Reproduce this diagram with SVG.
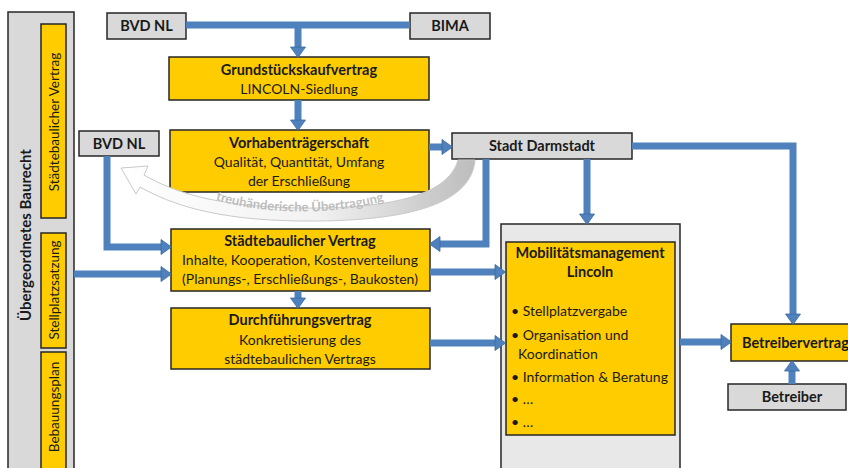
<svg xmlns="http://www.w3.org/2000/svg" width="848" height="468" viewBox="0 0 848 468">
<style>
text{font-family:Lato,"Open Sans","Liberation Sans",sans-serif;fill:#1a1a1a}
.t{font-weight:bold;font-size:14.5px;text-anchor:middle}
.r{font-size:14px;text-anchor:middle}
.y{fill:#FFCC00;stroke:#262626;stroke-width:1.5}
.g{fill:#D9D9D9;stroke:#262626;stroke-width:1.5}
.gp{fill:#E8E8E8;stroke:#262626;stroke-width:1.5}
.c{fill:none;stroke:#4F81BD;stroke-width:7;stroke-linejoin:miter}
.b{font-size:14px}
</style>
<defs>
<marker id="ah" markerUnits="userSpaceOnUse" markerWidth="12" markerHeight="16" refX="0" refY="8" orient="auto" overflow="visible">
<path d="M0,0.5 L10.5,8 L0,15.5 z" fill="#4F81BD" stroke="#3B6AA0" stroke-width="0.8"/>
</marker>
<linearGradient id="cg" x1="0" y1="0" x2="1" y2="0">
<stop offset="0" stop-color="#ffffff"/>
<stop offset="0.55" stop-color="#f2f2f2"/>
<stop offset="1" stop-color="#bdbdbd"/>
</linearGradient>
<path id="tp" d="M 200 194 C 250 216 340 218 400 196"/>
</defs>

<g id="left-panel">
<rect x="8" y="12" width="66" height="470" class="g"/>
<text transform="translate(31,235) rotate(-90)" class="t" style="font-size:15px">Übergeordnetes Baurecht</text>
</g>
<g id="staedtebaulicher-vertrag-left">
<rect x="41" y="24" width="25" height="194" class="y"/>
<text transform="translate(59,122) rotate(-90)" class="r" style="font-size:13.5px">Städtebaulicher  Vertrag</text>
</g>
<g id="stellplatzsatzung">
<rect x="41" y="233" width="25" height="115" class="y"/>
<text transform="translate(59,290) rotate(-90)" class="r" style="font-size:13.5px">Stellplatzsatzung</text>
</g>
<g id="bebauungsplan">
<rect x="41" y="352" width="25" height="130" class="y"/>
<text transform="translate(59,407) rotate(-90)" class="r" style="font-size:13.5px">Bebauungsplan</text>
</g>

<g id="bvd-nl-top">
<rect x="107" y="13" width="79" height="26" class="g"/>
<text x="146.5" y="31" class="t">BVD NL</text>
</g>
<g id="bima">
<rect x="410" y="13" width="80" height="26" class="g"/>
<text x="450" y="31" class="t">BIMA</text>
</g>
<g id="grundstueckskaufvertrag">
<rect x="169" y="57" width="260" height="43" class="y"/>
<text x="299" y="75" class="t">Grundstückskaufvertrag</text>
<text x="299" y="94" class="r">LINCOLN-Siedlung</text>
</g>
<g id="vorhabentraegerschaft">
<rect x="170" y="130" width="259" height="62" class="y"/>
<text x="299" y="148" class="t">Vorhabenträgerschaft</text>
<text x="299" y="167" class="r">Qualität, Quantität, Umfang</text>
<text x="299" y="186" class="r">der Erschließung</text>
</g>
<g id="bvd-nl-left">
<rect x="79" y="131" width="80" height="25" class="g"/>
<text x="119" y="148.5" class="t">BVD NL</text>
</g>
<g id="stadt-darmstadt">
<rect x="452" y="133" width="180" height="26" class="g"/>
<text x="542" y="151" class="t">Stadt Darmstadt</text>
</g>

<g id="treuhaenderische-uebertragung">
<path d="M 475 160 C 471 207 400 222 300 221 C 215 220 170 204 140 187 L 136 194 L 121 168 L 148 166 L 144 175 C 175 193 220 207 300 208 C 385 209 448 197 458 160 Z" fill="url(#cg)" stroke="#c9c9c9" stroke-width="1"/>
<text style="font-size:13px;font-weight:bold;fill:#bdbdbd"><textPath href="#tp" startOffset="50%" text-anchor="middle">treuhänderische Übertragung</textPath></text>
</g>

<g id="staedtebaulicher-vertrag">
<rect x="171" y="229" width="259" height="62" class="y"/>
<text x="300" y="246" class="t">Städtebaulicher Vertrag</text>
<text x="300" y="265" class="r">Inhalte, Kooperation, Kostenverteilung</text>
<text x="300" y="284" class="r">(Planungs-, Erschließungs-, Baukosten)</text>
</g>
<g id="durchfuehrungsvertrag">
<rect x="171" y="308" width="259" height="61" class="y"/>
<text x="300" y="325" class="t">Durchführungsvertrag</text>
<text x="300" y="345" class="r">Konkretisierung des</text>
<text x="300" y="364" class="r">städtebaulichen Vertrags</text>
</g>
<g id="mobilitaetsmanagement">
<rect x="501" y="224" width="179" height="260" class="gp"/>
<rect x="506" y="242" width="169" height="193" class="y"/>
<text x="590" y="258" class="t">Mobilitätsmanagement</text>
<text x="590" y="277" class="t">Lincoln</text>
<text x="511" y="316" class="b">• Stellplatzvergabe</text>
<text x="511" y="340" class="b">• Organisation und</text>
<text x="518" y="359" class="b">Koordination</text>
<text x="511" y="382" class="b">• Information &amp; Beratung</text>
<text x="511" y="404" class="b">• …</text>
<text x="511" y="427" class="b">• …</text>
</g>
<g id="betreibervertrag">
<rect x="731" y="324" width="130" height="37" class="y"/>
<text x="742" y="348" class="t" style="text-anchor:start">Betreibervertrag</text>
</g>
<g id="betreiber">
<rect x="728" y="384" width="118" height="26" class="g"/>
<text x="792" y="402" class="t">Betreiber</text>
</g>

<g id="connectors">
<path class="c" d="M 186 25 H 410"/>
<path class="c" d="M 298 25 V 47" marker-end="url(#ah)"/>
<path class="c" d="M 298 100 V 120" marker-end="url(#ah)"/>
<path class="c" d="M 429 147 H 442" marker-end="url(#ah)"/>
<path class="c" d="M 632 146 H 793 V 314" marker-end="url(#ah)"/>
<path class="c" d="M 587 159 V 214" marker-end="url(#ah)"/>
<path class="c" d="M 486 159 V 244 H 440" marker-end="url(#ah)"/>
<path class="c" d="M 107 156 V 247 H 161" marker-end="url(#ah)"/>
<path class="c" d="M 74 274 H 161" marker-end="url(#ah)"/>
<path class="c" d="M 430 272 H 495" marker-end="url(#ah)"/>
<path class="c" d="M 298 291 V 298" marker-end="url(#ah)"/>
<path class="c" d="M 430 343 H 495" marker-end="url(#ah)"/>
<path class="c" d="M 680 342 H 721" marker-end="url(#ah)"/>
<path class="c" d="M 792 384 V 371" marker-end="url(#ah)"/>
</g>
</svg>
